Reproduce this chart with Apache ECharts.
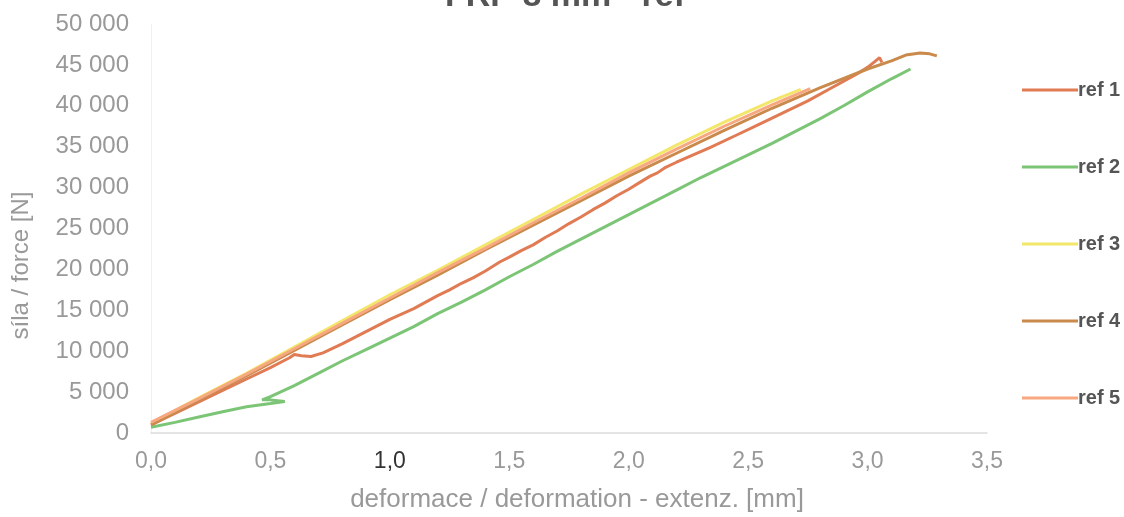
<!DOCTYPE html>
<html>
<head>
<meta charset="utf-8">
<script src="https://cdn.jsdelivr.net/npm/echarts@6/dist/echarts.min.js"></script>
<style>
  html, body { margin: 0; padding: 0; background: #fff; }
  #chart { width: 1124px; height: 517px; }
</style>
</head>
<body>
<div id="chart"></div>
<script>
// data: [deformation mm, force N]
var names = ['ref 1', 'ref 2', 'ref 3', 'ref 4', 'ref 5'];
var ref1 = [[0,1000],[0.1,2400],[0.2,3800],[0.3,5200],[0.4,6600],[0.5,8000],[0.58,9200],[0.6,9600],[0.63,9450],
  [0.67,9350],[0.72,9800],[0.8,10900],[0.9,12400],[1.0,13900],[1.1,15200],[1.2,16800],[1.25,17500],[1.3,18300],
  [1.35,19000],[1.4,19800],[1.46,20900],[1.5,21500],[1.55,22300],[1.6,23000],[1.65,23900],[1.7,24700],[1.75,25600],
  [1.8,26400],[1.85,27300],[1.9,28100],[1.95,29000],[2.0,29800],[2.05,30700],[2.09,31400],[2.12,31800],[2.15,32400],
  [2.2,33100],[2.27,34000],[2.34,34900],[2.45,36400],[2.55,37800],[2.65,39200],[2.75,40600],[2.85,42200],
  [2.95,43800],[3.0,44700],[3.03,45400],[3.05,45900],[3.06,45300]];
var ref2 = [[0,700],[0.1,1300],[0.2,1950],[0.3,2600],[0.4,3200],[0.5,3600],[0.56,3850],[0.5,4050],[0.465,4050],
  [0.5,4450],[0.6,5800],[0.71,7450],[0.8,8800],[0.9,10200],[1.0,11600],[1.1,13000],[1.2,14600],[1.3,16000],
  [1.4,17500],[1.5,19100],[1.6,20600],[1.7,22200],[1.8,23700],[1.9,25200],[2.0,26700],[2.1,28200],[2.2,29700],
  [2.3,31200],[2.4,32600],[2.5,34000],[2.6,35400],[2.7,36900],[2.8,38400],[2.9,40000],[3.0,41700],[3.1,43300],[3.18,44500]];
var ref3 = [[0,1200],[0.2,4300],[0.4,7300],[0.6,10500],[0.8,13700],[1.0,16900],[1.2,19900],[1.4,23000],[1.6,26100],
  [1.8,29200],[2.0,32200],[2.2,35200],[2.4,38000],[2.6,40600],[2.72,42000]];
var ref4 = [[0,1000],[0.2,4000],[0.4,7000],[0.6,10100],[0.8,13200],[1.0,16300],[1.2,19300],[1.4,22400],[1.6,25400],
  [1.8,28400],[2.0,31400],[2.2,34200],[2.4,37000],[2.6,39700],[2.8,42200],[3.0,44500],[3.1,45500],[3.16,46200],
  [3.22,46450],[3.26,46350],[3.29,46100]];
var ref5 = [[0,1300],[0.2,4200],[0.4,7200],[0.6,10300],[0.8,13400],[1.0,16500],[1.2,19600],[1.4,22600],[1.6,25700],
  [1.8,28700],[2.0,31800],[2.2,34700],[2.4,37500],[2.6,40100],[2.76,42100]];
var colors = ['#e07b54', '#7cc576', '#f2e66b', '#c98a4b', '#f7a880'];
var font = 'Liberation Sans, Arial, sans-serif';

var seriesData = [ref1, ref2, ref3, ref4, ref5].map(function (d, i) {
  return {
    name: names[i],
    type: 'line',
    data: d,
    showSymbol: false,
    symbol: 'none',
    lineStyle: { width: 3, color: colors[i] },
    itemStyle: { color: colors[i] }
  };
});

var myChart = echarts.init(document.getElementById('chart'));
myChart.setOption({
  animation: false,
  title: {
    text: 'FRP 8 mm - ref',
    left: 560,
    textAlign: 'center',
    top: -25,
    textStyle: { fontSize: 34, fontWeight: 'bold', color: '#555', fontFamily: font }
  },
  grid: { left: 151, right: 137, top: 24, bottom: 84, outerBoundsMode: 'none', containLabel: false },
  legend: {
    data: names,
    orient: 'vertical',
    left: 1017,
    top: 75,
    itemWidth: 56,
    itemHeight: 16,
    itemGap: 57,
    icon: 'path://M0,6.5 L56,6.5 L56,9.5 L0,9.5 Z',
    textStyle: { fontSize: 20, fontWeight: 'bold', color: '#555', padding: [0, 0, 0, -5], fontFamily: font }
  },
  xAxis: {
    type: 'value',
    min: 0, max: 3.5, interval: 0.5,
    name: 'deformace / deformation - extenz. [mm]',
    nameLocation: 'middle',
    nameGap: 54,
    nameTextStyle: { fontSize: 26, color: '#999', fontFamily: font, padding: [0, 0, 0, 16] },
    axisLine: { lineStyle: { color: '#dcdcdc', width: 1.5 } },
    axisTick: { show: false },
    splitLine: { show: false },
    axisLabel: {
      fontSize: 23, color: '#999', margin: 17,
      fontFamily: font,
      formatter: function (v) {
        var s = v.toFixed(1).replace('.', ',');
        return v === 1 ? '{d|' + s + '}' : s;
      },
      rich: { d: { fontSize: 23, color: '#333', fontFamily: font } }
    }
  },
  yAxis: {
    type: 'value',
    min: 0, max: 50000, interval: 5000,
    name: 'síla / force [N]',
    nameLocation: 'middle',
    nameGap: 118,
    nameTextStyle: { fontSize: 24, color: '#999', fontFamily: font, padding: [0, 74, 0, 0] },
    axisLine: { show: true, lineStyle: { color: '#f0f0f0' } },
    axisTick: { show: false },
    splitLine: { show: false },
    axisLabel: {
      fontSize: 24, color: '#999', margin: 22,
      fontFamily: font,
      formatter: function (v) {
        return String(v).replace(/\B(?=(\d{3})+(?!\d))/g, ' ');
      }
    }
  },
  series: seriesData
});
</script>
</body>
</html>
